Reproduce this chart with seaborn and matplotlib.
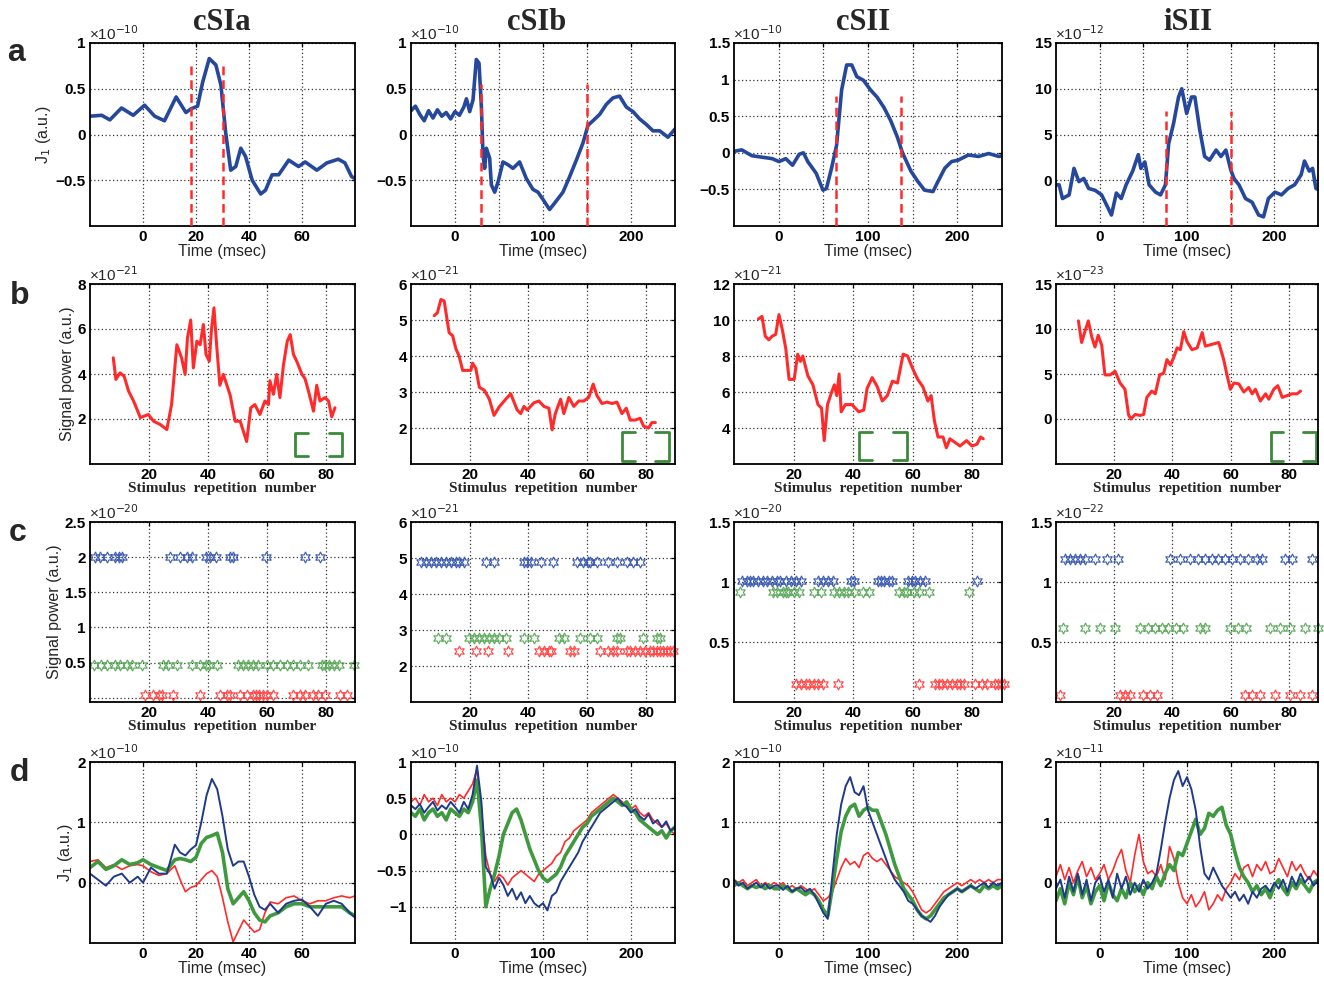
import matplotlib
matplotlib.use("Agg")
import matplotlib.pyplot as plt
import seaborn as sns

sns.set_theme(style="white")
plt.rcParams["font.family"] = ["Liberation Sans", "DejaVu Sans"]

# ---------------- data ----------------
COLUMNS = ["cSIa", "cSIb", "cSII", "iSII"]
ROW_LETTERS = ["a", "b", "c", "d"]

# Row a: J1 (scaled by 10^exp)
A_EXP = [-10, -10, -10, -12]
A_CSIA_T = [-20, -15.6, -12.5, -8.1, -3.7, 0.6, 4.4, 8.1, 12.5, 16.2, 18.1, 20.6, 22.5, 25, 27.5,
            29.4, 31.2, 33.1, 35, 36.9, 38.7, 41.2, 44.4, 46.2, 48.7, 51.2, 55, 58.7, 61.2, 65.6,
            69.4, 73.7, 76.2, 78.7, 80]
A_CSIA_J = [0.20, 0.21, 0.16, 0.29, 0.21, 0.32, 0.20, 0.15, 0.41, 0.24, 0.28, 0.31, 0.57, 0.83, 0.76,
            0.54, 0.02, -0.39, -0.35, -0.15, -0.24, -0.50, -0.65, -0.61, -0.44, -0.44, -0.28, -0.35, -0.30, -0.39,
            -0.31, -0.27, -0.31, -0.46, -0.48]
A_CSIB_T = [-50, -45, -40, -35, -30, -25, -20, -15, -10, -5, 0, 5, 10, 13, 16.7, 20.5, 24.2, 27.3,
            30, 31.8, 33.7, 35.6, 39.4, 41.3, 45.1, 48.9, 54.5, 60.2, 65.9, 73.4, 81, 88.6, 94.3,
            100, 107.5, 113.2, 122.7, 130.3, 137.9, 145.5, 151.1, 156.8, 164.4, 172, 179.5, 187,
            194.7, 202.3, 209.8, 217.4, 225, 232.6, 242, 250]
A_CSIB_J = [0.26, 0.31, 0.22, 0.15, 0.26, 0.18, 0.27, 0.20, 0.24, 0.17, 0.25, 0.21, 0.30, 0.39, 0.25, 0.38, 0.82, 0.78,
            0.30, -0.22, -0.37, -0.15, -0.26, -0.55, -0.63, -0.52, -0.30, -0.33, -0.37, -0.30, -0.48, -0.60, -0.63,
            -0.71, -0.82, -0.75, -0.63, -0.46, -0.28, -0.09, 0.10, 0.15, 0.22, 0.33, 0.40, 0.42,
            0.30, 0.25, 0.17, 0.11, 0.04, 0.04, -0.03, 0.06]
A_CSII_T = [-50, -41.3, -30, -18.6, -7.2, 0.4, 8, 15.5, 23, 27.7, 32.6, 42, 49.6, 53.4, 59,
            64.8, 70.5, 76.1, 81.8, 87.5, 95, 102.7, 110.2, 117.8, 125.4, 133, 138.6, 148, 155.7, 163.3,
            172.7, 178.4, 186, 193.5, 201, 212.4, 223.8, 235, 246.6, 250]
A_CSII_J = [0.02, 0.04, -0.04, -0.06, -0.08, -0.12, -0.08, -0.17, -0.02, 0.00, -0.12, -0.28, -0.51, -0.49, -0.22,
            0.10, 0.86, 1.20, 1.20, 1.04, 0.99, 0.86, 0.76, 0.62, 0.44, 0.21, 0.00, -0.25, -0.39, -0.51,
            -0.53, -0.39, -0.21, -0.12, -0.10, -0.03, -0.05, -0.01, -0.05, -0.04]
A_ISII_T = [-50, -46.4, -42.6, -35, -29.4, -23.8, -18.2, -12.6, -5.2, 2.2, 7.9, 13.5, 19.1, 24.7, 30.3,
            37.8, 44.2, 47.2, 51.7, 56.6, 64, 69.7, 75.3, 79, 84.6, 90.3, 94, 99.6, 105.2, 109,
            114.6, 120.2, 125.8, 133.3, 138.9, 144.5, 150.2, 154, 159.5, 167, 174.5, 182, 187.6, 193.2, 200.7,
            208.2, 215.7, 223.2, 230.7, 234.5, 240, 243.8, 247.6, 250]
A_ISII_J = [-0.5, -0.5, -2.0, -1.6, 1.3, -0.15, 0.2, -0.9, -1.1, -1.6, -2.7, -3.8, -1.4, -2.0, -0.5,
            1.0, 2.8, 1.3, 2.0, -0.5, -1.3, -1.6, -0.5, 4.0, 6.2, 9.1, 10.0, 7.3, 9.1, 9.1,
            5.5, 2.6, 2.2, 3.3, 2.6, 3.3, 1.1, 0.15, -0.5, -2.0, -2.4, -3.8, -4.0, -2.0, -1.3,
            -1.6, -0.9, -0.5, 0.6, 2.1, 1.0, 1.3, -0.9, -1.0]
A_DASH_X = [[18, 30], [30, 150], [64, 137], [76, 150]]
A_DASH_TOP = [0.78, 0.55, 0.78, 7.6]

# Row b: signal power vs stimulus repetition
B_EXP = [-21, -21, -21, -23]
B_CSIA_N = [7.9, 8.8, 10.2, 11.6, 13.1, 14.8, 17.1, 19.8, 21.6, 23.8, 26.1, 27.7, 29.5, 31.1, 32.3,
            33.1, 34.2, 35.1, 36.3, 37.4, 38.5, 39.4, 40.5, 41.3, 42.1, 43, 44.1, 45.3, 47.6, 49.3,
            51, 53.2, 54.6, 56, 57.7, 59.4, 60.6, 61.1, 62.3, 63.4, 64.5, 65.7, 67, 68, 69.1,
            70.2, 72, 73, 74.2, 75.9, 77, 78.1, 79.8, 81, 82.1, 83.2]
B_CSIA_P = [4.72, 3.76, 4.05, 3.9, 3.24, 2.8, 2.06, 2.2, 1.9, 1.76, 1.53, 2.64, 5.3, 4.72, 3.98,
            5.6, 6.4, 4.27, 5.46, 5.3, 6.2, 4.87, 4.57, 6.05, 6.94, 5.3, 3.5, 3.98, 3.06, 1.9,
            1.9, 1.0, 2.5, 2.64, 2.2, 2.8, 2.64, 3.7, 3.1, 3.98, 2.95, 4.4, 5.46, 5.75, 4.87,
            4.57, 3.98, 3.8, 3.24, 2.35, 3.5, 2.8, 2.95, 2.8, 2.1, 2.5]
B_CSIB_N = [7.9, 9, 10.2, 11.3, 13, 14.2, 15.3, 16.4, 17.6, 18.7, 20.4, 21, 22.1, 23.3, 25,
            26.7, 28.3, 30, 32.3, 34, 36.2, 37.4, 38.5, 39.6, 41.9, 43.6, 45.3, 47, 48.1, 49.2,
            51, 52.1, 53.8, 55.5, 57.2, 58.9, 60.6, 62.1, 63.4, 65.1, 66.8, 68.5, 70.2, 71.9, 73.4,
            74.7, 76.4, 78.1, 79.3, 81, 82.1, 83.3]
B_CSIB_P = [5.12, 5.2, 5.57, 5.53, 4.65, 4.56, 4.2, 4.0, 3.6, 3.6, 3.6, 3.8, 3.65, 3.13, 3.05,
            2.8, 2.35, 2.58, 2.8, 2.95, 2.5, 2.4, 2.6, 2.5, 2.7, 2.75, 2.6, 2.55, 1.95, 2.4,
            2.8, 2.4, 2.85, 2.6, 2.75, 2.75, 2.85, 3.22, 2.9, 2.68, 2.72, 2.68, 2.72, 2.4, 2.55,
            2.22, 2.22, 2.27, 2.05, 2.0, 2.15, 2.15]
B_CSII_N = [8.2, 9.4, 10.5, 11.7, 12.8, 14, 15.1, 16.3, 17.4, 18.5, 20.2, 21.4, 22.3, 23.1, 24.8,
            26.5, 28.2, 29.4, 30.3, 31.4, 32.8, 33.7, 34.5, 35.3, 36, 37.4, 39.6, 41.9, 43.6, 44.7,
            46.4, 48.1, 49.8, 51.5, 53.2, 54.9, 56.8, 58.3, 60, 61.7, 63.4, 65.1, 66.2, 67.3, 68.5,
            70.2, 71.3, 72.5, 74.2, 75.9, 78.1, 79.9, 81.6, 82.8, 83.7]
B_CSII_P = [10.06, 10.2, 9.1, 8.9, 9.1, 9.2, 10.3, 9.4, 8.4, 6.7, 6.7, 8.1, 7.7, 8.0, 6.9,
            6.4, 5.3, 5.1, 3.3, 5.3, 6.0, 6.4, 5.8, 7.0, 4.9, 5.3, 5.3, 4.9, 5.0, 6.2,
            6.8, 6.3, 5.5, 5.8, 6.6, 6.5, 8.1, 8.0, 7.3, 6.7, 6.3, 5.5, 5.8, 4.4, 3.5,
            3.5, 2.9, 3.4, 3.2, 3.0, 3.3, 3.0, 3.1, 3.5, 3.4]
B_ISII_N = [7.7, 8.8, 10, 11.1, 12.3, 13.4, 14.5, 15.7, 16.8, 18.6, 20.3, 22, 23.7, 24.9, 25.7,
            27.2, 28.9, 30.1, 31.2, 32.9, 34.1, 35.6, 37, 38.1, 39.3, 40.4, 41.6, 42.7, 43.9, 45,
            46.7, 48.5, 50.2, 51.3, 53.6, 55.9, 57.6, 58.8, 59.9, 61.1, 62.8, 64.5, 66.2, 67.4, 68.5,
            70.2, 72, 73.1, 74.8, 76.2, 77.7, 79.4, 81.1, 82.8, 84]
B_ISII_P = [10.9, 8.5, 9.8, 10.9, 9.1, 8.0, 9.3, 8.2, 4.9, 4.9, 5.3, 4.0, 3.3, 0.5, 0.0,
            0.5, 0.4, 0.5, 2.4, 3.1, 2.8, 4.9, 5.1, 6.6, 6.0, 6.8, 7.9, 7.7, 9.7, 8.6,
            7.7, 7.9, 9.6, 8.1, 8.3, 8.5, 6.6, 4.8, 3.3, 4.0, 3.9, 3.0, 3.5, 2.8, 3.3,
            2.0, 2.8, 2.2, 3.3, 3.7, 2.4, 2.6, 2.8, 2.8, 3.1]
# bracket extents [x0, x1, y0, y1]
B_BRACKETS = [[69.5, 85.5, 0.35, 1.4], [71.9, 87.8, 1.08, 1.9], [42.0, 58.0, 2.2, 3.8], [73.8, 89.3, -4.7, -1.4]]

# Row c: repetition classes (blue / green / red)
C_EXP = [-20, -21, -20, -22]
C_LEVELS = [[2.0, 0.47, 0.04], [4.88, 2.78, 2.42], [1.01, 0.92, 0.15], [1.19, 0.62, 0.06]]
C_CSIA = [
    [1.7, 3.4, 5.9, 8.5, 9.9, 10.7, 27.1, 30.5, 32.8, 34.8, 39.5, 40.6, 42.9, 47.5, 48.4, 59.9, 72.9, 78],
    [1.5, 3.8, 5.8, 8.5, 10.2, 12.5, 14.2, 17.6, 24.9, 26.6, 29.4, 34.5, 37.3, 39.5, 40.5, 43, 50.4, 52.1,
     53.8, 55.5, 57.2, 60, 62.3, 64.6, 66.8, 69.1, 71.3, 74.1, 78.7, 79.9, 81, 82.7, 84.4, 89.5],
    [18.7, 21.5, 23.5, 24.3, 28.3, 37.4, 44.2, 46.4, 47.6, 51, 53.2, 55.5, 56.4, 57.5, 58.9, 60, 62.3,
     69.1, 71.3, 73.1, 75.9, 77.6, 79.9, 85, 87.2]]
C_CSIB = [
    [3.4, 5.1, 6.8, 8.5, 10.2, 11.9, 13.6, 15.3, 16.3, 18, 25.5, 28.3, 38.4, 39.7, 40.8, 44.2, 48.3, 56.7,
     58.8, 60.5, 61.1, 63.5, 67.3, 70.3, 73.7, 75.7, 78.1],
    [9.2, 11.9, 19.7, 21.4, 23.1, 24.8, 26.5, 28.2, 29.9, 32.3, 38.4, 41.8, 50.3, 52, 57.7, 61.1, 63.5,
     70.3, 71.3, 79.1, 83.9, 84.9],
    [16.3, 22.1, 26.2, 32.9, 43.5, 45.2, 46.9, 47.6, 54.3, 55.4, 64.5, 67.3, 69, 70.3, 73.7, 74.7, 76.4,
     78.1, 79.8, 81.5, 82.5, 83.9, 84.9, 85.9, 87.3, 88.3, 89.3]]
C_CSII = [
    [2.7, 4.4, 5.4, 6.4, 8.1, 9.8, 11.2, 12.9, 14.6, 15.6, 17.3, 19, 20.7, 22.4, 28.1, 29.8, 31.5, 33.2,
     39.3, 40.3, 48.5, 49.5, 50.5, 51.9, 52.9, 58.6, 59.7, 60.7, 62.4, 64.1, 81.7],
    [2, 13.2, 14.6, 16.3, 17.3, 18.3, 20, 21.7, 26.8, 29.2, 33.6, 35.3, 37, 38.3, 40.3, 43.4, 45.4, 55.3,
     57, 58, 60.3, 62, 65.4, 79],
    [20.7, 22.4, 24.1, 25.1, 26.8, 28.1, 29.8, 34.9, 62, 67.5, 68.8, 69.8, 71.5, 73.2, 74.9, 75.9, 77.3,
     81, 83.4, 85.1, 87.5, 88.5, 89.5, 90.8]]
C_ISII = [
    [3.1, 4.8, 6.5, 8.2, 10, 13.4, 17.5, 21.3, 39.2, 42.6, 46, 48.8, 51.2, 53.6, 55.7, 58, 60.5, 63.2,
     66, 69, 70.8, 78.7, 81.1, 88],
    [2.4, 10, 15.1, 20.3, 28.9, 31.6, 34, 36.4, 38.5, 41.2, 43.6, 49.5, 51.2, 59.8, 62.5, 65.3, 73.5,
     77, 80.4, 85.6, 90],
    [1.4, 22, 23.7, 25.4, 29.9, 32.3, 34.7, 65, 67.4, 70.1, 75.3, 80.4, 83.8, 88]]

# Row d: J1 for the three classes
D_EXP = [-10, -10, -10, -11]
D_CSIA_T = [-20, -17, -14, -11, -8, -5, -2, 0, 3, 6, 9, 12, 14, 16, 18, 20, 22, 24, 26, 28,
            30, 32, 34, 36, 38, 40, 42, 44, 46, 48, 51, 54, 57, 60, 63, 66, 69, 72, 75, 78, 80]
D_CSIA_BLUE = [0.15, 0.05, -0.05, 0.10, 0.15, 0.00, 0.10, 0.00, 0.25, 0.15, 0.15, 0.63, 0.50, 0.45, 0.55,
               0.62, 1.00, 1.45, 1.72, 1.55, 1.10, 0.55, 0.28, 0.35, 0.35, 0.10, -0.20, -0.40, -0.45, -0.35,
               -0.50, -0.35, -0.30, -0.28, -0.40, -0.55, -0.35, -0.30, -0.35, -0.50, -0.58]
D_CSIA_GREEN = [0.25, 0.35, 0.22, 0.28, 0.38, 0.30, 0.33, 0.38, 0.30, 0.25, 0.20, 0.38, 0.40, 0.38, 0.35,
                0.42, 0.65, 0.75, 0.78, 0.82, 0.50, -0.10, -0.35, -0.25, -0.15, -0.30, -0.50, -0.62, -0.65, -0.55,
                -0.50, -0.40, -0.35, -0.35, -0.40, -0.40, -0.40, -0.40, -0.40, -0.50, -0.55]
D_CSIA_RED = [0.35, 0.38, 0.25, 0.30, 0.22, 0.28, 0.30, 0.28, 0.18, 0.12, 0.15, 0.28, 0.05, -0.15, -0.08,
              -0.05, 0.05, 0.15, 0.20, 0.10, -0.25, -0.65, -0.98, -0.80, -0.62, -0.72, -0.82, -0.78, -0.50, -0.32,
              -0.35, -0.25, -0.22, -0.30, -0.35, -0.30, -0.30, -0.25, -0.22, -0.25, -0.22]
D_T300 = list(range(-50, 251, 5))
D_CSIB_BLUE = [0.40, 0.35, 0.42, 0.30, 0.38, 0.45, 0.33, 0.40, 0.35, 0.45,
               0.38, 0.30, 0.45, 0.35, 0.55, 0.95, 0.45, -0.45, -0.55, -0.75,
               -0.60, -0.70, -0.85, -0.75, -0.90, -0.80, -0.95, -0.85, -0.95, -1.00,
               -0.95, -1.05, -0.85, -0.80, -0.65, -0.55, -0.45, -0.35, -0.25, -0.10,
               0.00, 0.10, 0.20, 0.30, 0.35, 0.40, 0.45, 0.50, 0.42, 0.38,
               0.30, 0.35, 0.25, 0.20, 0.28, 0.15, 0.20, 0.10, 0.18, 0.05, 0.10]
D_CSIB_GREEN = [0.30, 0.25, 0.35, 0.20, 0.30, 0.35, 0.25, 0.30, 0.20, 0.35,
                0.30, 0.25, 0.35, 0.30, 0.45, 0.75, 0.10, -1.00, -0.75, -0.55,
                -0.30, 0.00, 0.15, 0.30, 0.35, 0.20, 0.00, -0.20, -0.35, -0.50,
                -0.60, -0.65, -0.60, -0.55, -0.45, -0.30, -0.20, -0.10, 0.00, 0.10,
                0.15, 0.25, 0.30, 0.35, 0.40, 0.45, 0.50, 0.45, 0.40, 0.45,
                0.35, 0.30, 0.20, 0.15, 0.10, 0.05, 0.00, 0.05, -0.05, 0.05, 0.10]
D_CSIB_RED = [0.45, 0.50, 0.40, 0.55, 0.45, 0.50, 0.40, 0.55, 0.45, 0.50,
              0.45, 0.55, 0.50, 0.60, 0.70, 0.90, 0.30, -0.30, -0.55, -0.65,
              -0.55, -0.60, -0.70, -0.60, -0.55, -0.50, -0.55, -0.60, -0.65, -0.55,
              -0.50, -0.45, -0.40, -0.30, -0.25, -0.10, -0.05, 0.05, 0.10, 0.15,
              0.20, 0.30, 0.35, 0.40, 0.45, 0.50, 0.55, 0.50, 0.45, 0.40,
              0.35, 0.40, 0.30, 0.25, 0.30, 0.20, 0.15, 0.10, 0.15, 0.05, 0.00]
D_CSII_BLUE = [0.05, -0.05, 0.00, -0.10, -0.05, 0.00, -0.08, -0.02, -0.10, -0.05,
               -0.05, -0.12, -0.05, -0.15, -0.10, -0.08, -0.15, -0.10, -0.20, -0.35,
               -0.50, -0.60, 0.10, 0.80, 1.30, 1.60, 1.75, 1.50, 1.45, 1.60,
               1.20, 1.00, 0.80, 0.60, 0.40, 0.20, 0.05, -0.05, -0.15, -0.30,
               -0.35, -0.45, -0.55, -0.60, -0.65, -0.55, -0.40, -0.30, -0.20, -0.15,
               -0.10, -0.15, -0.10, -0.05, -0.10, -0.05, 0.00, -0.08, 0.00, -0.05, 0.00]
D_CSII_GREEN = [-0.05, 0.00, -0.05, -0.10, -0.05, -0.08, -0.05, -0.10, -0.05, -0.10,
                -0.10, -0.05, -0.10, -0.15, -0.10, -0.15, -0.20, -0.15, -0.20, -0.30,
                -0.45, -0.55, -0.10, 0.40, 0.85, 1.10, 1.25, 1.30, 1.10, 1.20,
                1.25, 1.20, 1.20, 1.00, 0.80, 0.55, 0.30, 0.10, -0.10, -0.20,
                -0.30, -0.45, -0.55, -0.60, -0.55, -0.45, -0.35, -0.25, -0.20, -0.15,
                -0.10, -0.15, -0.10, -0.05, -0.10, -0.15, -0.05, -0.10, -0.05, -0.10, -0.05]
D_CSII_RED = [0.05, 0.00, 0.05, -0.05, 0.00, 0.05, -0.05, 0.00, -0.05, 0.00,
              -0.05, 0.00, -0.10, -0.05, -0.10, -0.05, -0.10, -0.15, -0.10, -0.20,
              -0.30, -0.25, -0.15, 0.05, 0.25, 0.40, 0.30, 0.35, 0.25, 0.45,
              0.50, 0.40, 0.35, 0.40, 0.30, 0.20, 0.10, 0.05, 0.00, -0.05,
              -0.15, -0.30, -0.45, -0.50, -0.45, -0.35, -0.25, -0.15, -0.10, -0.05,
              0.00, -0.05, 0.00, 0.05, 0.00, 0.05, 0.00, 0.05, 0.00, 0.05, 0.05]
D_ISII_BLUE = [-0.10, 0.05, -0.25, 0.10, -0.15, 0.15, -0.20, 0.05, -0.30, 0.00,
               0.10, -0.15, 0.05, -0.25, 0.15, -0.10, 0.10, -0.20, 0.00, -0.15,
               0.05, -0.10, 0.00, 0.15, 0.55, 1.00, 1.40, 1.70, 1.85, 1.60,
               1.75, 1.55, 1.20, 0.60, 0.15, 0.05, 0.25, 0.10, -0.05, -0.15,
               -0.25, -0.15, -0.30, -0.20, -0.35, -0.15, -0.25, -0.10, -0.05, -0.15,
               0.00, -0.10, 0.05, -0.15, 0.10, -0.05, 0.15, 0.00, 0.10, -0.05, 0.05]
D_ISII_GREEN = [-0.30, -0.10, -0.35, 0.00, -0.20, 0.10, -0.25, -0.05, -0.35, -0.15,
                -0.05, -0.30, 0.00, -0.20, -0.30, -0.10, -0.25, 0.00, -0.15, -0.05,
                -0.20, 0.00, -0.10, 0.10, -0.05, 0.15, 0.30, 0.20, 0.50, 0.45,
                0.65, 0.85, 1.05, 0.80, 0.90, 1.15, 1.10, 1.20, 1.25, 0.95,
                0.80, 0.50, 0.25, 0.10, 0.00, -0.15, -0.05, -0.20, -0.10, -0.25,
                -0.05, 0.05, -0.10, -0.20, 0.00, -0.10, 0.05, -0.05, -0.15, 0.00, 0.05]
D_ISII_RED = [0.10, 0.30, 0.05, 0.25, 0.00, 0.20, 0.35, 0.10, 0.25, 0.05,
              0.15, 0.30, 0.05, 0.20, 0.40, 0.55, 0.20, 0.00, 0.45, 0.80,
              0.35, 0.15, 0.20, 0.10, 0.30, 0.05, 0.60, 0.40, 0.00, -0.25,
              -0.35, -0.20, -0.40, -0.30, -0.15, -0.45, -0.35, -0.20, -0.30, -0.10,
              0.00, 0.15, 0.05, 0.25, 0.30, 0.10, 0.30, 0.20, 0.35, 0.15,
              0.20, 0.40, 0.25, 0.10, 0.35, 0.20, 0.30, 0.15, 0.05, 0.20, 0.10]

# ---------------- style ----------------
W, H = 1324, 984
COL_X = [(90, 355), (411, 675), (734, 1002), (1056, 1318)]
ROW_Y = [(43, 226), (284, 464), (522, 702), (762, 943)]
BLUE = "#26489c"
RED = "#ff2b2b"
GREEN = "#3f9a3f"
MK_COLORS = ["#3a5ab4", "#5aaa5a", "#ff4545"]
MINUS = "\u2212"


def fmt(v):
    s = ("%g" % v)
    return s.replace("-", MINUS)


fig = plt.figure(figsize=(W / 100, H / 100), dpi=100)


def make_ax(c, r):
    x0, x1 = COL_X[c]
    y0, y1 = ROW_Y[r]
    return fig.add_axes([x0 / W, 1 - y1 / H, (x1 - x0) / W, (y1 - y0) / H])


def style(ax, xlim, xticks, xlabels, ylim, yticks, ylabels, exp, xlabel, serif_xlabel=False):
    ax.set_xlim(*xlim)
    ax.set_ylim(*ylim)
    ax.set_xticks(xticks)
    ax.set_xticklabels(xlabels)
    ax.set_yticks(yticks)
    ax.set_yticklabels(ylabels)
    ax.set_axisbelow(True)
    ax.grid(True, linestyle=(0, (1, 2)), linewidth=0.9, color="#333333")
    ax.tick_params(direction="in", length=3, width=0.9, top=True, right=True,
                   labelsize=11, pad=3, colors="black")
    for lbl in ax.get_xticklabels() + ax.get_yticklabels():
        lbl.set_fontweight("bold")
    for s in ax.spines.values():
        s.set_linewidth(1.3)
        s.set_color("black")
        s.set_visible(True)
    ax.annotate("\u00d710$^{%d}$" % exp, xy=(0, 1), xycoords="axes fraction",
                xytext=(-1, 0), textcoords="offset points", ha="left", va="bottom",
                fontsize=11)
    if serif_xlabel:
        ax.set_xlabel(xlabel, family="Liberation Serif", fontweight="bold", fontsize=11, labelpad=0)
    else:
        ax.set_xlabel(xlabel, fontsize=11.5, labelpad=0)
    ax.set_ylabel("")


T_XLIM = [(-20, 80), (-50, 250), (-50, 250), (-50, 250)]
T_XTICKS = [[0, 20, 40, 60], [0, 50, 100, 150, 200], [0, 50, 100, 150, 200], [0, 50, 100, 150, 200]]
T_XLABELS = [["0", "20", "40", "60"], ["0", "", "100", "", "200"], ["0", "", "100", "", "200"],
             ["0", "", "100", "", "200"]]
N_XTICKS = [20, 40, 60, 80]

# ---------- row a ----------
A_T = [A_CSIA_T, A_CSIB_T, A_CSII_T, A_ISII_T]
A_J = [A_CSIA_J, A_CSIB_J, A_CSII_J, A_ISII_J]
A_YLIM = [(-1, 1), (-1, 1), (-1, 1.5), (-5, 15)]
A_YTICKS = [[-0.5, 0, 0.5, 1], [-0.5, 0, 0.5, 1], [-0.5, 0, 0.5, 1, 1.5], [0, 5, 10, 15]]
for c in range(4):
    ax = make_ax(c, 0)
    sns.lineplot(x=A_T[c], y=A_J[c], ax=ax, color=BLUE, linewidth=2.6, estimator=None, sort=False)
    ax.vlines(A_DASH_X[c], A_YLIM[c][0], A_DASH_TOP[c], colors=RED, linestyles=(0, (3.5, 2)),
              linewidth=1.8, zorder=3)
    style(ax, T_XLIM[c], T_XTICKS[c], T_XLABELS[c], A_YLIM[c], A_YTICKS[c],
          [fmt(v) for v in A_YTICKS[c]], A_EXP[c], "Time (msec)")
    if c == 0:
        ax.set_ylabel("J$_1$ (a.u.)", fontsize=11.5, labelpad=2)

# ---------- row b ----------
B_N = [B_CSIA_N, B_CSIB_N, B_CSII_N, B_ISII_N]
B_P = [B_CSIA_P, B_CSIB_P, B_CSII_P, B_ISII_P]
B_YLIM = [(0, 8), (1, 6), (2, 12), (-5, 15)]
B_YTICKS = [[2, 4, 6, 8], [2, 3, 4, 5, 6], [4, 6, 8, 10, 12], [0, 5, 10, 15]]
for c in range(4):
    ax = make_ax(c, 1)
    sns.lineplot(x=B_N[c], y=B_P[c], ax=ax, color=RED, linewidth=2.2, estimator=None, sort=False)
    x0, x1, y0, y1 = B_BRACKETS[c]
    arm = (x1 - x0) * 0.28
    ax.plot([x0 + arm, x0, x0, x0 + arm], [y1, y1, y0, y0], color="#3a8a3a", linewidth=2.0,
            solid_joinstyle="round")
    ax.plot([x1 - arm, x1, x1, x1 - arm], [y1, y1, y0, y0], color="#3a8a3a", linewidth=2.0,
            solid_joinstyle="round")
    style(ax, (0, 90), N_XTICKS, [str(v) for v in N_XTICKS], B_YLIM[c], B_YTICKS[c],
          [fmt(v) for v in B_YTICKS[c]], B_EXP[c], "Stimulus  repetition  number", serif_xlabel=True)
    if c == 0:
        ax.set_ylabel("Signal power (a.u.)", fontsize=11.5, labelpad=2)

# ---------- row c ----------
C_ALL = [C_CSIA, C_CSIB, C_CSII, C_ISII]
C_YLIM = [(-0.06, 2.5), (1, 6), (0, 1.5), (0, 1.5)]
C_YTICKS = [[0, 0.5, 1, 1.5, 2, 2.5], [2, 3, 4, 5, 6], [0.5, 1, 1.5], [0.5, 1, 1.5]]
for c in range(4):
    ax = make_ax(c, 2)
    for k in range(3):
        xs = C_ALL[c][k]
        sns.lineplot(x=xs, y=[C_LEVELS[c][k]] * len(xs), ax=ax, color=MK_COLORS[k], linestyle="none",
                     marker=(6, 1, 0), markersize=8, markerfacecolor="none",
                     markeredgecolor=MK_COLORS[k], markeredgewidth=0.8, estimator=None, sort=False,
                     clip_on=False)
    ylabels = ["" if v == 0 else fmt(v) for v in C_YTICKS[c]]
    style(ax, (0, 90), N_XTICKS, [str(v) for v in N_XTICKS], C_YLIM[c], C_YTICKS[c],
          ylabels, C_EXP[c], "Stimulus  repetition  number", serif_xlabel=True)
    if c == 0:
        ax.set_ylabel("Signal power (a.u.)", fontsize=11.5, labelpad=2)

# ---------- row d ----------
D_T = [D_CSIA_T, D_T300, D_T300, D_T300]
D_LINES = [[D_CSIA_BLUE, D_CSIA_GREEN, D_CSIA_RED], [D_CSIB_BLUE, D_CSIB_GREEN, D_CSIB_RED],
           [D_CSII_BLUE, D_CSII_GREEN, D_CSII_RED], [D_ISII_BLUE, D_ISII_GREEN, D_ISII_RED]]
D_YLIM = [(-1, 2), (-1.5, 1), (-1, 2), (-1, 2)]
D_YTICKS = [[0, 1, 2], [-1, -0.5, 0, 0.5, 1], [0, 1, 2], [0, 1, 2]]
for c in range(4):
    ax = make_ax(c, 3)
    b, g, r = D_LINES[c]
    sns.lineplot(x=D_T[c], y=r, ax=ax, color=RED, linewidth=1.2, estimator=None, sort=False)
    sns.lineplot(x=D_T[c], y=g, ax=ax, color=GREEN, linewidth=2.6, estimator=None, sort=False)
    sns.lineplot(x=D_T[c], y=b, ax=ax, color="#1f3a8a", linewidth=1.4, estimator=None, sort=False)
    style(ax, T_XLIM[c], T_XTICKS[c], T_XLABELS[c], D_YLIM[c], D_YTICKS[c],
          [fmt(v) for v in D_YTICKS[c]], D_EXP[c], "Time (msec)")
    if c == 0:
        ax.set_ylabel("J$_1$ (a.u.)", fontsize=11.5, labelpad=2)

# ---------- titles and row letters ----------
TITLE_X = [222, 537, 863, 1188]
for c in range(4):
    fig.text(TITLE_X[c] / W, 1 - 22 / H, COLUMNS[c], family="Liberation Serif", fontweight="bold",
             fontsize=22, ha="center", va="center")
LETTER_POS = [(16, 53), (20, 296), (18, 533), (19, 773)]
for i, (px, py) in enumerate(LETTER_POS):
    fig.text(px / W, 1 - py / H, ROW_LETTERS[i], fontweight="bold", fontsize=23, ha="center", va="center")

fig.savefig("out.png", dpi=100, facecolor="white")
